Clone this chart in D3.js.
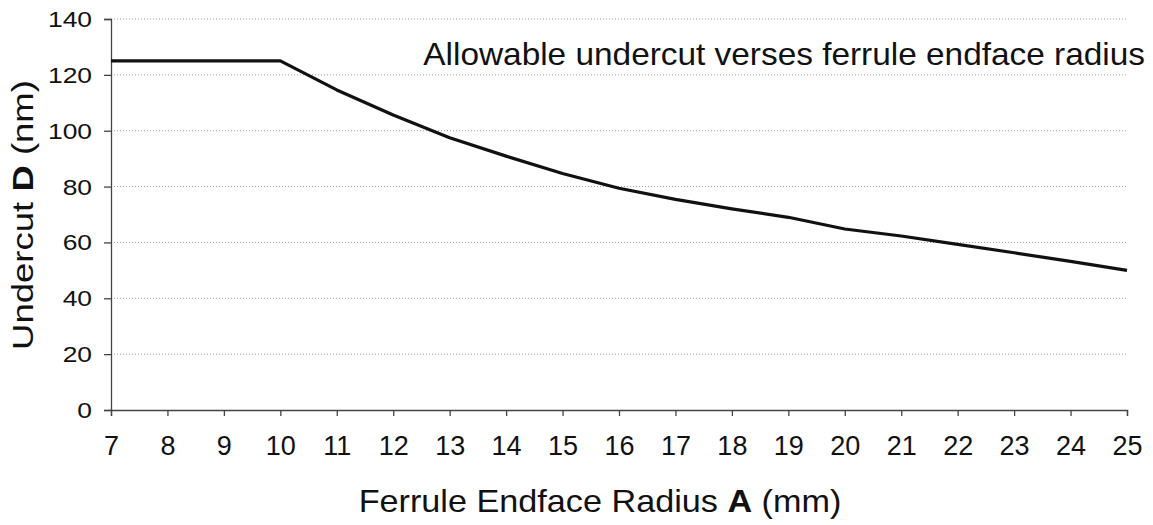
<!DOCTYPE html>
<html>
<head>
<meta charset="utf-8">
<script src="https://cdn.jsdelivr.net/npm/d3@7"></script>
<style>
  body { margin: 0; background: #fff; }
  text { font-family: "Liberation Sans", Arial, sans-serif; fill: #111; }
</style>
</head>
<body>
<div id="chart"></div>
<script>
// DATA
var radiusA = [7, 8, 9, 10, 11, 12, 13, 14, 15, 16, 17, 18, 19, 20, 21, 22, 23, 24, 25];
var undercutD = [125, 125, 125, 125, 114.6, 105.6, 97.5, 90.9, 84.7, 79.4, 75.4, 72, 69, 64.8, 62.3, 59.3, 56.3, 53.2, 50];
var yTicks = [0, 20, 40, 60, 80, 100, 120, 140];

var width = 1153,
    height = 525;
var margin = {top: 19, right: 26, bottom: 115, left: 111};

var svg = d3.select("#chart").append("svg")
    .attr("width", width)
    .attr("height", height);

var x = d3.scaleLinear()
    .domain([7, 25])
    .range([margin.left, width - margin.right]);

var y = d3.scaleLinear()
    .domain([0, 140])
    .range([height - margin.bottom, margin.top]);

// GRID
svg.append("g")
    .attr("class", "grid")
    .selectAll("line")
    .data(yTicks.filter(function(d) { return d > 0; }))
    .enter()
    .append("line")
    .attr("x1", x(7))
    .attr("x2", x(25))
    .attr("y1", function(d) { return y(d); })
    .attr("y2", function(d) { return y(d); })
    .attr("stroke", "#999")
    .attr("stroke-width", 1)
    .attr("stroke-dasharray", "1,2");

// AXES
var xAxis = svg.append("g")
    .attr("transform", "translate(0," + y(0) + ")")
    .call(d3.axisBottom(x).tickValues(radiusA).tickFormat(d3.format("d")).tickSize(6).tickPadding(20));

var yAxis = svg.append("g")
    .attr("transform", "translate(" + x(7) + ",0)")
    .call(d3.axisLeft(y).tickValues(yTicks).tickSize(7).tickPadding(14));

[xAxis, yAxis].forEach(function(a) {
    a.select(".domain").attr("stroke", "#444").attr("stroke-width", 1.3);
    a.selectAll(".tick line").attr("stroke", "#444").attr("stroke-width", 1.3);
    a.selectAll(".tick text").remove();
});

xAxis.selectAll(".tick")
    .append("text")
    .attr("y", 26)
    .attr("dy", "0.71em")
    .attr("text-anchor", "middle")
    .attr("font-size", 27)
    .text(function(d) { return d; });

// y labels are a bit wider than normal in the original
var yStretch = 1.2;
yAxis.selectAll(".tick")
    .append("g")
    .attr("transform", "translate(-19,0) scale(" + yStretch + ",1)")
    .append("text")
    .attr("dy", "0.34em")
    .attr("text-anchor", "end")
    .attr("font-size", 22)
    .text(function(d) { return d; });

// LINE
var line = d3.line()
    .x(function(d, i) { return x(radiusA[i]); })
    .y(function(d) { return y(d); });

svg.append("path")
    .datum(undercutD)
    .attr("d", line)
    .attr("fill", "none")
    .attr("stroke", "#111")
    .attr("stroke-width", 3.2)
    .attr("stroke-linejoin", "round");

// TITLES
// stretch a text horizontally so it fills a given width
function fit(text, w) {
    var len = text.node().getComputedTextLength();
    text.attr("transform", "scale(" + (w / len) + ",1)");
}

var ann = svg.append("g").attr("transform", "translate(1145,65)");
var annText = ann.append("text")
    .attr("text-anchor", "end")
    .attr("font-size", 32)
    .text("Allowable undercut verses ferrule endface radius");
fit(annText, 722);

var xg = svg.append("g").attr("transform", "translate(600,512)");
var xt = xg.append("text")
    .attr("text-anchor", "middle")
    .attr("font-size", 31);
xt.append("tspan").text("Ferrule Endface Radius ");
xt.append("tspan").attr("font-weight", "bold").text("A");
xt.append("tspan").text(" (mm)");
fit(xt, 483);

var yg = svg.append("g").attr("transform", "translate(33,215) rotate(-90)");
var yt = yg.append("text")
    .attr("text-anchor", "middle")
    .attr("font-size", 30);
yt.append("tspan").text("Undercut ");
yt.append("tspan").attr("font-weight", "bold").text("D");
yt.append("tspan").text(" (nm)");
fit(yt, 270);
</script>
</body>
</html>
